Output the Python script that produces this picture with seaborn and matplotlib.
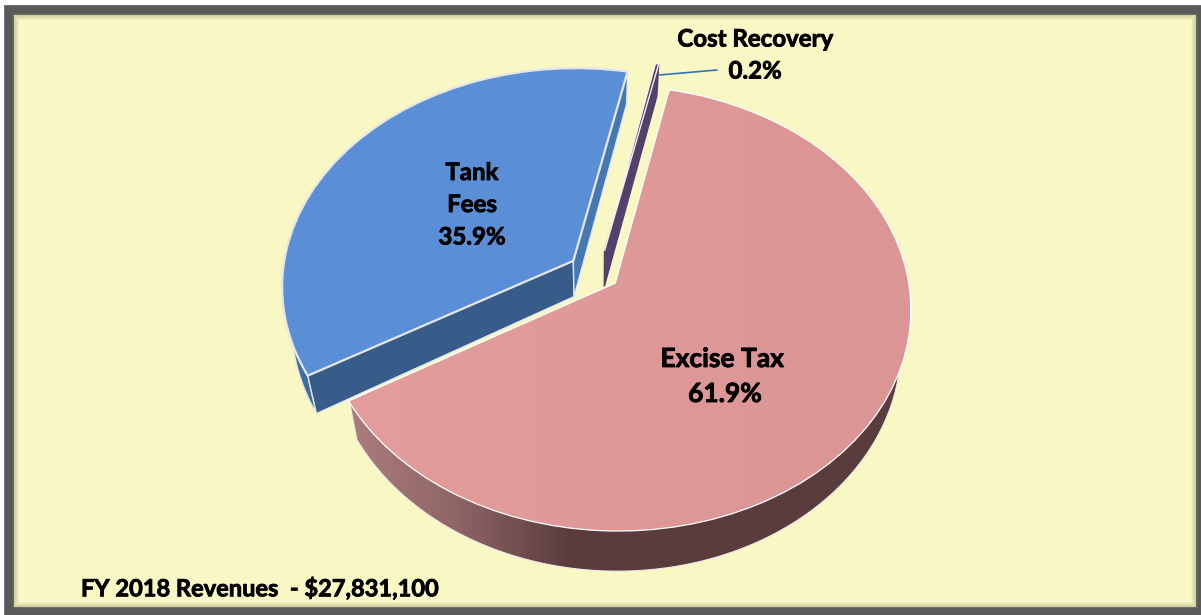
import numpy as np
import matplotlib
matplotlib.use("Agg")
import matplotlib.pyplot as plt
import matplotlib.patheffects as pe
from matplotlib.patches import Rectangle, Polygon
from matplotlib.transforms import Transform
import seaborn as sns

# FY 2018 revenue shares, percent
categories = ["Excise Tax", "Tank Fees", "Cost Recovery"]
shares = [61.9, 35.9, 0.2]
explode = [0.075, 0.105, 0.11]
total_label = "FY 2018 Revenues  - $27,831,100"

BG = "#F9F8C5"
FRAME = "#595959"
TOP_COLORS = sns.color_palette(["#DE9898", "#5A8FD8", "#54406B"])
TANK_WALL_DARK = "#375C8A"
TANK_WALL_MID = "#4577B0"
TANK_RIM = "#3D6CA6"
FONT = "Lato"

# Perspective camera for the tilted disc (pixel space, y pointing down)
X0, Y0, SX, SY, TILT = 598.0, 274.0, 291.0, 217.0, 0.1116
DEPTH, SHRINK = 36.0, 0.03
START_CLOCKWISE = 12.2


def project(xy, drop=False):
    xy = np.atleast_2d(xy)
    w = 1 + TILT * xy[:, 1]
    px = SX * xy[:, 0] / w
    py = Y0 - SY * xy[:, 1] / w
    if drop:
        px = px * (1 - SHRINK)
        py = py + DEPTH / w
    return np.column_stack([X0 + px, py])


class DiscProjection(Transform):
    input_dims = 2
    output_dims = 2
    is_separable = False
    has_inverse = False

    def transform_non_affine(self, values):
        return project(values)


def rim_points(wedge, n=160):
    t = np.radians(np.linspace(wedge.theta1, wedge.theta2, n))
    return np.column_stack([wedge.center[0] + np.cos(t), wedge.center[1] + np.sin(t)])


def side_quad(points):
    return np.vstack([project(points), project(points, drop=True)[::-1]])


sns.set_style("white")
fig, ax = plt.subplots(figsize=(12.01, 6.15), dpi=100)
fig.subplots_adjust(0, 0, 1, 1)
fig.patch.set_facecolor("white")

wedges, _ = ax.pie(shares, explode=explode, colors=TOP_COLORS, counterclock=False,
                   startangle=90 - START_CLOCKWISE, wedgeprops=dict(linewidth=1.5))
ax.set_aspect("auto")
ax.set_xlim(0, 1201)
ax.set_ylim(615, 0)
ax.axis("off")

# Panel with dark frame and soft inner shadow
ax.add_patch(Rectangle((8.5, 10), 1192, 602, fc=BG, ec=FRAME, lw=7, zorder=0))
for i in range(7):
    ax.add_patch(Rectangle((12 + i, 13 + i), 1185 - 2 * i, 595 - 2 * i, fc="none",
                           ec="#6E6E50", alpha=0.30 * (1 - i / 7), lw=1, zorder=0.5))

proj = DiscProjection() + ax.transData
excise, tank, cost = wedges

# Tank Fees: outer rim and the two cut faces
tank_rim = rim_points(tank)
ax.add_patch(Polygon(side_quad(tank_rim), fc=TANK_RIM, ec="#E6E6E6", lw=1, zorder=2))
tank_apex = np.array([tank.center])
for end, colour in ((tank_rim[-1:], TANK_WALL_DARK), (tank_rim[:1], TANK_WALL_MID)):
    seg = np.vstack([tank_apex, end])
    ax.add_patch(Polygon(side_quad(seg), fc=colour, ec="#E6E6E6", lw=1, zorder=2.5))

# Cost Recovery: thin cut face
cost_rim = rim_points(cost, 8)
cost_seg = np.vstack([[cost.center], cost_rim[:1]])
ax.add_patch(Polygon(side_quad(cost_seg), fc="#54406B", ec="#54406B", lw=1, zorder=2.6))

# Excise Tax: outer rim shaded from the left edge into shadow
rim_cmap = sns.blend_palette(["#AD7F7F", "#8F6566", "#5A3C3D", "#5A3C3D", "#5A3C3D", "#5A3C3D"],
                             as_cmap=True)
rim_patch = Polygon(side_quad(rim_points(excise, 300)), fc="none", ec="none",
                    transform=ax.transData, zorder=2.9)
ax.add_patch(rim_patch)
rim_img = ax.imshow(np.linspace(0, 1, 256)[None, :], cmap=rim_cmap, aspect="auto",
                    extent=(340, 915, 615, 0), zorder=3, interpolation="bilinear")
rim_img.set_clip_path(rim_patch)
ax.add_patch(Polygon(side_quad(rim_points(excise, 300)), fc="none", ec="#F2E8E8", lw=0.8, zorder=3.1))

# Top faces projected on to the tilted plane
for wedge, edge, z in ((tank, "#E6E6E6", 4), (cost, "#F4F4F4", 3.9), (excise, "white", 4.2)):
    wedge.set_transform(proj)
    wedge.set_edgecolor(edge)
    wedge.set_zorder(z)
cost.set_linewidth(1.0)
tank.set_linewidth(1.6)
excise.set_linewidth(1.8)
excise.set_clip_on(True)

# Soft left-to-right shading across the excise top
top_cmap = sns.blend_palette(["#E49C9C", "#DB9595"], as_cmap=True)
top_img = ax.imshow(np.linspace(0, 1, 256)[None, :], cmap=top_cmap, aspect="auto",
                    extent=(340, 910, 615, 0), zorder=4.25, interpolation="bilinear")
top_img.set_clip_path(excise.get_path(), proj)
ax.set_xlim(0, 1201)
ax.set_ylim(615, 0)

# Leader from the small slice to its label
leader_from = project(rim_points(cost, 2)[:1])[0]
ax.plot([leader_from[0] + 1, 717], [leader_from[1] + 11, 70], color="#2E75B6", lw=1.2, zorder=5)

heavier = [pe.withStroke(linewidth=0.6, foreground="black")]
label_style = dict(ha="center", va="center", fontfamily=FONT, fontweight="bold",
                   fontsize=17.3, color="black", zorder=6, path_effects=heavier)
large_style = {**label_style, "fontsize": 19}
ax.text(472, 172.5, "Tank", **label_style)
ax.text(472, 204.5, "Fees", **label_style)
ax.text(472, 237, f"{shares[1]}%", **label_style)
ax.text(722, 359, categories[0], **large_style)
ax.text(725, 394, f"{shares[0]}%", **large_style)
ax.text(755, 39, categories[2], **label_style)
ax.text(755, 71, f"{shares[2]}%", **label_style)
ax.text(81, 588, total_label, ha="left", va="center", fontfamily=FONT, fontweight="bold",
        fontsize=17, color="black", zorder=6, path_effects=heavier)

fig.savefig("out.png", dpi=100, facecolor="white")
